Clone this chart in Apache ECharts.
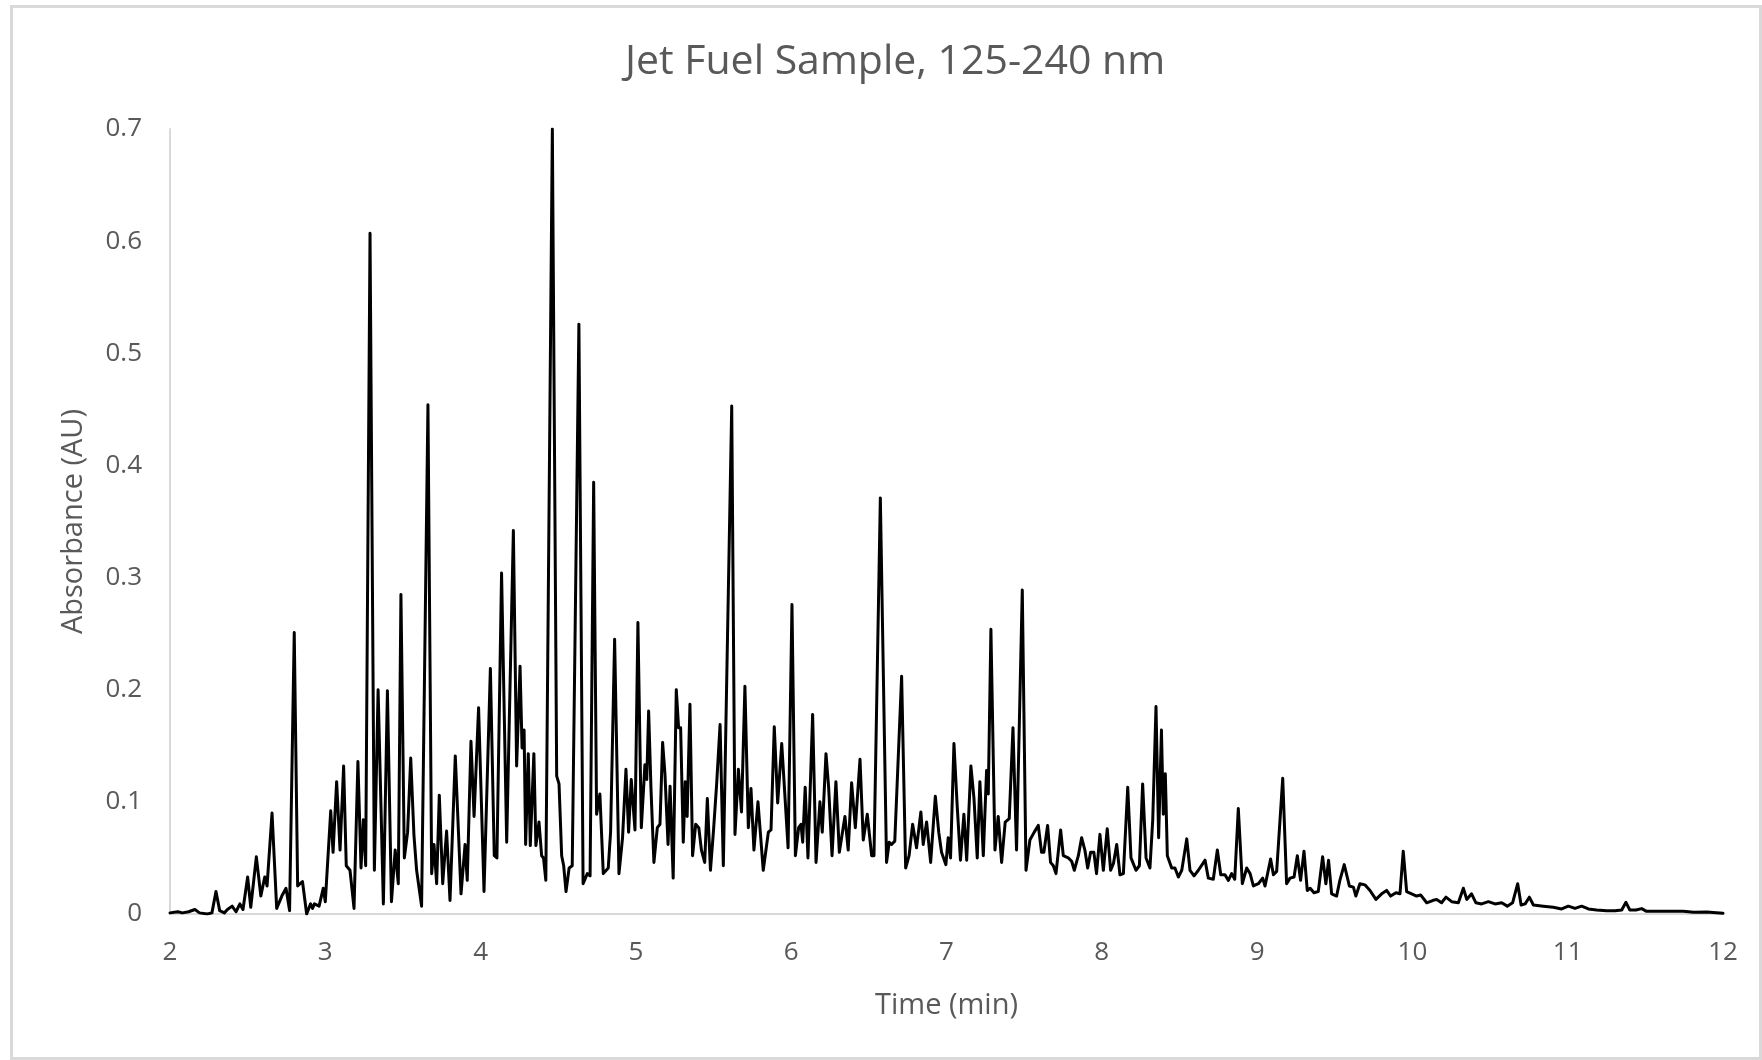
<!DOCTYPE html>
<html>
<head>
<meta charset="utf-8">
<title>Jet Fuel Sample, 125-240 nm</title>
<script src="https://cdn.jsdelivr.net/npm/echarts@6/dist/echarts.min.js"></script>
<style>
  html, body { margin: 0; padding: 0; background: #ffffff; }
  #chart { width: 1762px; height: 1060px; }
</style>
</head>
<body>
<div id="chart"></div>
<script>
// Chromatogram trace: retention time (min) and absorbance (AU)
const timeMin = [
  2.00, 2.05, 2.08, 2.12, 2.16, 2.19, 2.24, 2.27, 2.296, 2.32, 2.35, 2.37, 2.40, 2.425, 2.45, 2.47,
  2.50, 2.52, 2.556, 2.585, 2.61, 2.625, 2.657, 2.687, 2.72, 2.747, 2.77, 2.80, 2.822, 2.853, 2.88,
  2.905, 2.918, 2.93, 2.96, 2.987, 3.00, 3.035, 3.05, 3.073, 3.095, 3.118, 3.135, 3.159, 3.185, 3.21,
  3.23, 3.245, 3.26, 3.288, 3.316, 3.34, 3.374, 3.40, 3.426, 3.45, 3.47, 3.487, 3.509, 3.53, 3.55,
  3.571, 3.588, 3.62, 3.661, 3.685, 3.70, 3.717, 3.734, 3.756, 3.781, 3.803, 3.837, 3.874, 3.90,
  3.914, 3.938, 3.958, 3.987, 4.022, 4.063, 4.088, 4.105, 4.135, 4.168, 4.211, 4.232, 4.254, 4.267,
  4.28, 4.29, 4.307, 4.32, 4.343, 4.356, 4.376, 4.393, 4.405, 4.42, 4.462, 4.49, 4.505, 4.522, 4.535,
  4.55, 4.57, 4.59, 4.633, 4.66, 4.687, 4.705, 4.728, 4.747, 4.768, 4.79, 4.822, 4.837, 4.863, 4.891,
  4.914, 4.936, 4.953, 4.97, 4.994, 5.013, 5.035, 5.058, 5.07, 5.082, 5.097, 5.116, 5.138, 5.155,
  5.172, 5.187, 5.207, 5.22, 5.24, 5.26, 5.275, 5.288, 5.305, 5.318, 5.33, 5.348, 5.365, 5.385, 5.405,
  5.422, 5.443, 5.46, 5.48, 5.50, 5.52, 5.542, 5.563, 5.617, 5.638, 5.66, 5.68, 5.702, 5.724, 5.741,
  5.76, 5.786, 5.82, 5.853, 5.87, 5.891, 5.913, 5.939, 5.98, 6.005, 6.027, 6.048, 6.063, 6.074, 6.09,
  6.108, 6.138, 6.16, 6.185, 6.20, 6.224, 6.241, 6.263, 6.288, 6.31, 6.346, 6.367, 6.389, 6.413, 6.443,
  6.464, 6.49, 6.518, 6.533, 6.574, 6.614, 6.631, 6.646, 6.667, 6.711, 6.737, 6.759, 6.782, 6.807,
  6.835, 6.85, 6.872, 6.898, 6.928, 6.95, 6.968, 6.996, 7.011, 7.026, 7.048, 7.069, 7.09, 7.112, 7.13,
  7.157, 7.177, 7.198, 7.215, 7.237, 7.258, 7.269, 7.286, 7.312, 7.333, 7.355, 7.378, 7.404, 7.428,
  7.451, 7.488, 7.512, 7.537, 7.565, 7.591, 7.612, 7.627, 7.651, 7.67, 7.688, 7.705, 7.735, 7.752,
  7.784, 7.806, 7.823, 7.849, 7.87, 7.891, 7.909, 7.928, 7.949, 7.966, 7.988, 8.01, 8.035, 8.057,
  8.075, 8.096, 8.117, 8.139, 8.167, 8.188, 8.22, 8.242, 8.263, 8.285, 8.31, 8.328, 8.349, 8.366,
  8.384, 8.396, 8.409, 8.422, 8.45, 8.471, 8.493, 8.515, 8.547, 8.568, 8.594, 8.622, 8.665, 8.686,
  8.718, 8.744, 8.766, 8.793, 8.815, 8.836, 8.856, 8.879, 8.905, 8.933, 8.955, 8.976, 9.008, 9.036,
  9.051, 9.087, 9.105, 9.126, 9.165, 9.19, 9.212, 9.238, 9.259, 9.28, 9.302, 9.323, 9.342, 9.366,
  9.394, 9.422, 9.443, 9.46, 9.48, 9.512, 9.533, 9.561, 9.594, 9.62, 9.636, 9.662, 9.694, 9.727,
  9.765, 9.802, 9.834, 9.86, 9.894, 9.92, 9.941, 9.963, 9.995, 10.027, 10.053, 10.092, 10.13, 10.156,
  10.188, 10.216, 10.253, 10.296, 10.328, 10.35, 10.381, 10.409, 10.446, 10.489, 10.532, 10.575,
  10.611, 10.645, 10.678, 10.70, 10.726, 10.753, 10.779, 10.843, 10.907, 10.961, 11.004, 11.047,
  11.09, 11.133, 11.186, 11.25, 11.305, 11.348, 11.375, 11.40, 11.44, 11.476, 11.508, 11.594, 11.68,
  11.745, 11.81, 11.895, 12.00
];

const absorbance = [
  0.001, 0.002, 0.001, 0.002, 0.004, 0.001, 0.000, 0.001, 0.020, 0.003, 0.001, 0.004, 0.007, 0.002, 0.009, 0.004,
  0.033, 0.006, 0.051, 0.016, 0.033, 0.025, 0.090, 0.005, 0.016, 0.023, 0.003, 0.251, 0.025, 0.029, 0.000,
  0.009, 0.005, 0.009, 0.007, 0.023, 0.011, 0.092, 0.055, 0.118, 0.057, 0.132, 0.043, 0.039, 0.005, 0.136,
  0.041, 0.084, 0.043, 0.607, 0.039, 0.200, 0.009, 0.199, 0.011, 0.057, 0.027, 0.285, 0.050, 0.073, 0.139,
  0.070, 0.039, 0.007, 0.454, 0.036, 0.062, 0.027, 0.106, 0.027, 0.074, 0.012, 0.141, 0.018, 0.062,
  0.030, 0.154, 0.087, 0.184, 0.020, 0.219, 0.052, 0.050, 0.304, 0.064, 0.342, 0.132, 0.221, 0.148,
  0.164, 0.062, 0.143, 0.061, 0.143, 0.061, 0.082, 0.052, 0.050, 0.030, 0.700, 0.123, 0.116, 0.052, 0.043,
  0.020, 0.041, 0.043, 0.526, 0.027, 0.036, 0.034, 0.385, 0.089, 0.107, 0.036, 0.041, 0.073, 0.245, 0.036,
  0.068, 0.129, 0.073, 0.120, 0.075, 0.260, 0.077, 0.133, 0.120, 0.181, 0.112, 0.046, 0.077, 0.080,
  0.153, 0.125, 0.062, 0.114, 0.032, 0.200, 0.166, 0.166, 0.064, 0.118, 0.087, 0.187, 0.052, 0.080, 0.077,
  0.057, 0.046, 0.103, 0.039, 0.075, 0.116, 0.169, 0.043, 0.453, 0.071, 0.129, 0.091, 0.203, 0.077, 0.112,
  0.057, 0.100, 0.039, 0.073, 0.075, 0.167, 0.099, 0.152, 0.059, 0.276, 0.052, 0.077, 0.080, 0.064, 0.113,
  0.050, 0.178, 0.046, 0.100, 0.073, 0.143, 0.113, 0.052, 0.118, 0.055, 0.087, 0.057, 0.117, 0.077, 0.138,
  0.066, 0.089, 0.052, 0.052, 0.371, 0.046, 0.064, 0.062, 0.065, 0.212, 0.041, 0.052, 0.080, 0.059,
  0.091, 0.062, 0.082, 0.046, 0.105, 0.073, 0.055, 0.044, 0.068, 0.050, 0.152, 0.096, 0.048, 0.089, 0.048,
  0.132, 0.103, 0.050, 0.118, 0.052, 0.128, 0.107, 0.254, 0.057, 0.087, 0.046, 0.082, 0.085, 0.166,
  0.057, 0.289, 0.039, 0.066, 0.073, 0.079, 0.055, 0.055, 0.079, 0.046, 0.043, 0.036, 0.075, 0.052,
  0.050, 0.047, 0.039, 0.052, 0.068, 0.057, 0.041, 0.055, 0.055, 0.036, 0.071, 0.039, 0.076, 0.039,
  0.045, 0.062, 0.035, 0.036, 0.113, 0.050, 0.039, 0.043, 0.116, 0.050, 0.041, 0.084, 0.185, 0.068,
  0.164, 0.089, 0.125, 0.052, 0.041, 0.041, 0.033, 0.039, 0.067, 0.039, 0.034, 0.039, 0.048, 0.032,
  0.031, 0.057, 0.035, 0.035, 0.030, 0.036, 0.031, 0.094, 0.027, 0.041, 0.036, 0.025, 0.027, 0.032,
  0.025, 0.049, 0.035, 0.038, 0.121, 0.027, 0.032, 0.033, 0.052, 0.030, 0.056, 0.021, 0.023, 0.019,
  0.020, 0.051, 0.027, 0.048, 0.018, 0.016, 0.030, 0.044, 0.025, 0.024, 0.016, 0.027, 0.026, 0.021,
  0.013, 0.018, 0.021, 0.016, 0.019, 0.018, 0.056, 0.020, 0.018, 0.016, 0.017, 0.010, 0.012, 0.013,
  0.010, 0.015, 0.011, 0.010, 0.023, 0.013, 0.018, 0.010, 0.009, 0.011, 0.009, 0.010,
  0.007, 0.010, 0.027, 0.008, 0.009, 0.015, 0.008, 0.007, 0.006, 0.0045, 0.007, 0.005,
  0.007, 0.0045, 0.0036, 0.003, 0.003, 0.0036, 0.0104, 0.0036, 0.0036, 0.0048, 0.0024, 0.0024, 0.0024,
  0.0024, 0.0015, 0.0018, 0.0006
];

// Axis ranges and tick steps
const xRange = [2, 12];
const xStep = 1;
const yRange = [0, 0.7];
const yStep = 0.1;

const chartTitle = 'Jet Fuel Sample, 125-240 nm';
const xTitle = 'Time (min)';
const yTitle = 'Absorbance (AU)';

const trace = timeMin.map((t, i) => [t, absorbance[i]]);

const textGray = '#595959';
const axisGray = '#d9d9d9';
const font = 'Open Sans';

const chart = echarts.init(document.getElementById('chart'), null, { renderer: 'canvas' });

chart.setOption({
  animation: false,
  backgroundColor: '#ffffff',
  title: {
    text: chartTitle,
    left: 620,
    top: 37,
    textStyle: { fontFamily: font, fontSize: 41, fontWeight: 'normal', color: textGray }
  },
  grid: { left: 170, top: 129, width: 1553, height: 785, containLabel: false },
  xAxis: {
    type: 'value',
    min: xRange[0],
    max: xRange[1],
    interval: xStep,
    name: xTitle,
    nameLocation: 'middle',
    nameGap: 77,
    nameTextStyle: { fontFamily: font, fontSize: 29, color: textGray },
    axisLine: { show: true, lineStyle: { color: axisGray, width: 2 } },
    axisTick: { show: false },
    splitLine: { show: false },
    axisLabel: { fontFamily: font, fontSize: 26, color: textGray, margin: 26 }
  },
  yAxis: {
    type: 'value',
    min: yRange[0],
    max: yRange[1],
    interval: yStep,
    name: yTitle,
    nameLocation: 'middle',
    nameRotate: 90,
    nameGap: 82,
    nameTextStyle: { fontFamily: font, fontSize: 29, color: textGray },
    axisLine: { show: true, lineStyle: { color: axisGray, width: 2 } },
    axisTick: { show: false },
    splitLine: { show: false },
    axisLabel: { fontFamily: font, fontSize: 26, color: textGray, margin: 28 }
  },
  series: [{
    type: 'line',
    data: trace,
    showSymbol: false,
    symbol: 'none',
    lineStyle: { color: '#000000', width: 3, join: 'round', cap: 'round' },
    z: 3
  }],
  graphic: [{
    type: 'rect',
    left: 9,
    top: 4,
    shape: { width: 1749, height: 1052 },
    style: { fill: null, stroke: axisGray, lineWidth: 3 },
    silent: true,
    z: -1
  }]
});
</script>
</body>
</html>
